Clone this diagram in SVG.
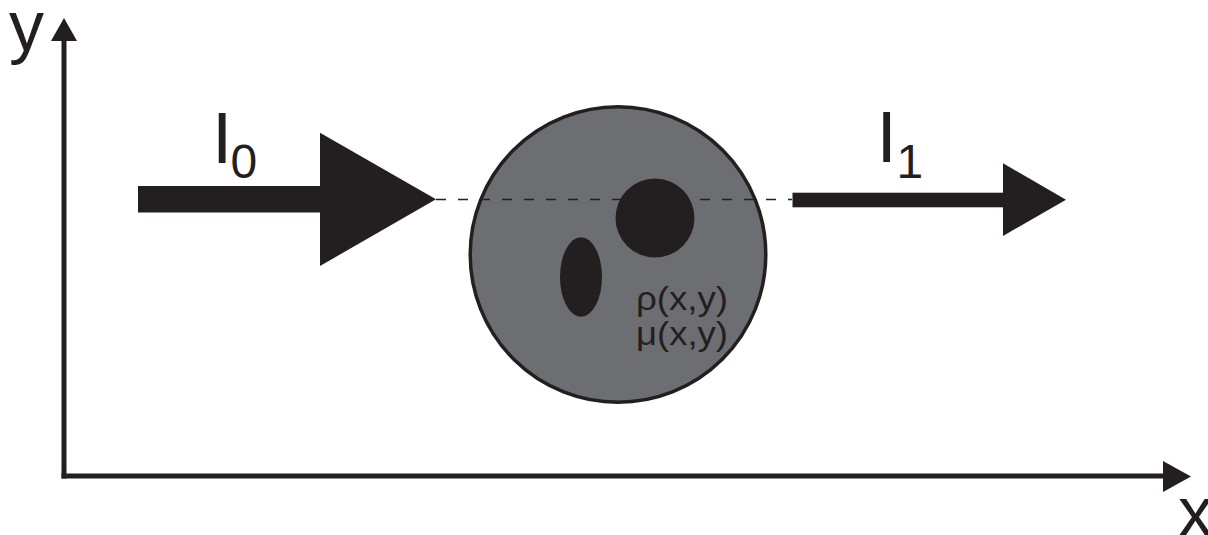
<svg xmlns="http://www.w3.org/2000/svg" width="1208" height="535" viewBox="0 0 1208 535">
  <style>
    .ink { fill: #231f20; }
    .axis { stroke: #231f20; stroke-width: 5; fill: none; }
    .lbl { font-family: "Liberation Sans", Arial, sans-serif; fill: #231f20; }
    .dash { stroke: #231f20; stroke-width: 1.5; stroke-dasharray: 10 12; fill: none; }
  </style>
  <rect width="1208" height="535" fill="#ffffff"/>
  <g id="object">
    <circle cx="618" cy="254.5" r="147.8" fill="#6d6e71" stroke="#231f20" stroke-width="3.5"/>
    <circle class="ink" cx="655" cy="218" r="39.5"/>
    <ellipse class="ink" cx="581" cy="277" rx="21" ry="39.7"/>
    <text class="lbl" x="636" y="310" font-size="34" textLength="92" lengthAdjust="spacingAndGlyphs">ρ(x,y)</text>
    <text class="lbl" x="636" y="345" font-size="34" textLength="92" lengthAdjust="spacingAndGlyphs">μ(x,y)</text>
  </g>
  <g id="connectors">
    <line class="axis" x1="64" y1="40" x2="64" y2="478.5"/>
    <line class="axis" x1="61.5" y1="476" x2="1164" y2="476"/>
    <polygon class="ink" points="64,18 77,41 51,41"/>
    <polygon class="ink" points="1191,476.5 1163,461 1163,492"/>
    <g id="beam-in">
      <rect class="ink" x="138" y="186" width="183" height="26.5"/>
      <polygon class="ink" points="320,132.7 436,199.3 320,266"/>
    </g>
    <line class="dash" x1="436" y1="199.5" x2="792" y2="199.5"/>
    <g id="beam-out">
      <rect class="ink" x="792.5" y="192.7" width="211" height="14.6"/>
      <polygon class="ink" points="1003,163.3 1066,199.7 1003,236"/>
    </g>
  </g>
  <g id="labels">
    <text class="lbl" x="9" y="50" font-size="70">y</text>
    <text class="lbl" x="1178" y="536" font-size="70">x</text>
    <text class="lbl" x="212" y="162.7" font-size="73">I</text>
    <text class="lbl" x="230.5" y="177.5" font-size="48">0</text>
    <text class="lbl" x="876.5" y="162.3" font-size="73">I</text>
    <text class="lbl" x="896.5" y="177.8" font-size="48">1</text>
  </g>
</svg>
